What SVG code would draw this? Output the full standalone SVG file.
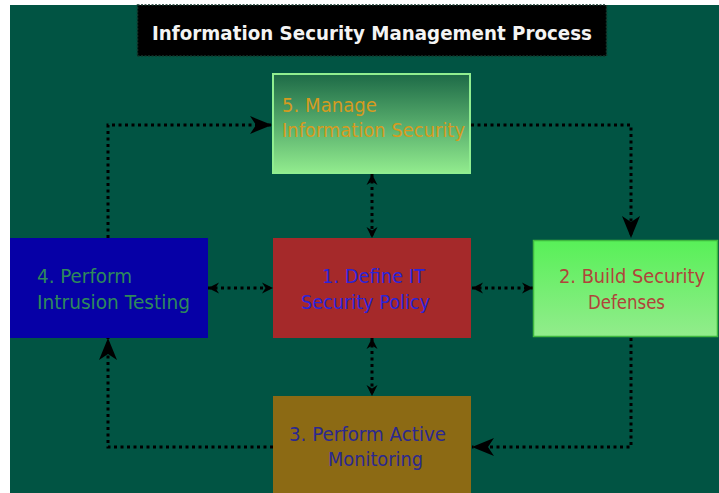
<svg xmlns="http://www.w3.org/2000/svg" width="719" height="493" viewBox="0 0 719 493">
<style>
  .lbl { font-family: "DejaVu Sans", Verdana, sans-serif; font-size: 20px; }
  .conn { fill: none; stroke: #000; stroke-width: 3; stroke-dasharray: 3 3.5; }
</style>
<defs>
  <linearGradient id="g5" x1="0" y1="0" x2="0" y2="1">
    <stop offset="0" stop-color="#1d6a47"/>
    <stop offset="0.55" stop-color="#5cb26f"/>
    <stop offset="1" stop-color="#92ec8e"/>
  </linearGradient>
  <linearGradient id="g2" x1="0" y1="0" x2="0" y2="1">
    <stop offset="0" stop-color="#58f058"/>
    <stop offset="1" stop-color="#92ec8c"/>
  </linearGradient>
  <marker id="big" markerUnits="userSpaceOnUse" markerWidth="24" markerHeight="22" refX="22" refY="11" orient="auto">
    <path d="M0,2 L22,11 L0,20 L6,11 Z" fill="#000"/>
  </marker>
  <marker id="smallE" markerUnits="userSpaceOnUse" markerWidth="14" markerHeight="14" refX="11" refY="7" orient="auto">
    <path d="M0,1.5 L11,7 L0,12.5 L3.5,7 Z" fill="#000"/>
  </marker>
  <marker id="smallS" markerUnits="userSpaceOnUse" markerWidth="14" markerHeight="14" refX="0" refY="7" orient="auto">
    <path d="M11,1.5 L0,7 L11,12.5 L7.5,7 Z" fill="#000"/>
  </marker>
</defs>
<rect x="0" y="0" width="719" height="493" fill="#ffffff"/>
<rect x="10" y="5" width="709" height="488" fill="#015443"/>

<g id="title">
  <rect x="137.5" y="5" width="469" height="51" fill="#000" stroke="#14352b" stroke-width="1.5" stroke-dasharray="2 1.5"/>
  <text x="372" y="40" text-anchor="middle" font-family="'DejaVu Sans', Verdana, sans-serif" font-size="20" font-weight="bold" fill="#f4f4f4" textLength="440" lengthAdjust="spacingAndGlyphs">Information Security Management Process</text>
</g>

<g id="connectors">
  <path class="conn" d="M108,238 V125 H272" marker-end="url(#big)"/>
  <path class="conn" d="M471,125 H631 V238" marker-end="url(#big)"/>
  <path class="conn" d="M631,338 V447 H472" marker-end="url(#big)"/>
  <path class="conn" d="M273,447 H108 V338" marker-end="url(#big)"/>
  <path class="conn" d="M372,174 V238" marker-start="url(#smallS)" marker-end="url(#smallE)"/>
  <path class="conn" d="M372,338 V396" marker-start="url(#smallS)" marker-end="url(#smallE)"/>
  <path class="conn" d="M208,288 H273" marker-start="url(#smallS)" marker-end="url(#smallE)"/>
  <path class="conn" d="M472,288 H533" marker-start="url(#smallS)" marker-end="url(#smallE)"/>
</g>

<g id="node5">
  <rect x="273" y="74" width="197" height="99" fill="url(#g5)" stroke="#90ee90" stroke-width="2"/>
  <text class="lbl" x="282" y="112" fill="#d69b1f" textLength="95" lengthAdjust="spacingAndGlyphs">5. Manage</text>
  <text class="lbl" x="282" y="137" fill="#d69b1f" textLength="183" lengthAdjust="spacingAndGlyphs">Information Security</text>
</g>

<g id="node1">
  <rect x="273" y="238" width="198" height="100" fill="#a5292a"/>
  <text class="lbl" x="322" y="283" fill="#2b24d8" textLength="103" lengthAdjust="spacingAndGlyphs">1. Define IT</text>
  <text class="lbl" x="301" y="309" fill="#2b24d8" textLength="129" lengthAdjust="spacingAndGlyphs">Security Policy</text>
</g>

<g id="node4">
  <rect x="10" y="238" width="198" height="100" fill="#0600a6"/>
  <text class="lbl" x="37" y="283" fill="#2e8a5a" textLength="95" lengthAdjust="spacingAndGlyphs">4. Perform</text>
  <text class="lbl" x="37" y="309" fill="#2e8a5a" textLength="153" lengthAdjust="spacingAndGlyphs">Intrusion Testing</text>
</g>

<g id="node2">
  <rect x="533.5" y="240.5" width="184" height="96" fill="url(#g2)" stroke="#3fb83f" stroke-width="1.5"/>
  <text class="lbl" x="559" y="283" fill="#b0443a" font-size="19" style="font-size:19px" textLength="146" lengthAdjust="spacingAndGlyphs">2. Build Security</text>
  <text class="lbl" x="588" y="309" fill="#b0443a" textLength="77" lengthAdjust="spacingAndGlyphs">Defenses</text>
</g>

<g id="node3">
  <rect x="273" y="396" width="198" height="97" fill="#8c6a14"/>
  <text class="lbl" x="289" y="441" fill="#2b2890" textLength="157" lengthAdjust="spacingAndGlyphs">3. Perform Active</text>
  <text class="lbl" x="328" y="466" fill="#2b2890" textLength="95" lengthAdjust="spacingAndGlyphs">Monitoring</text>
</g>
</svg>
